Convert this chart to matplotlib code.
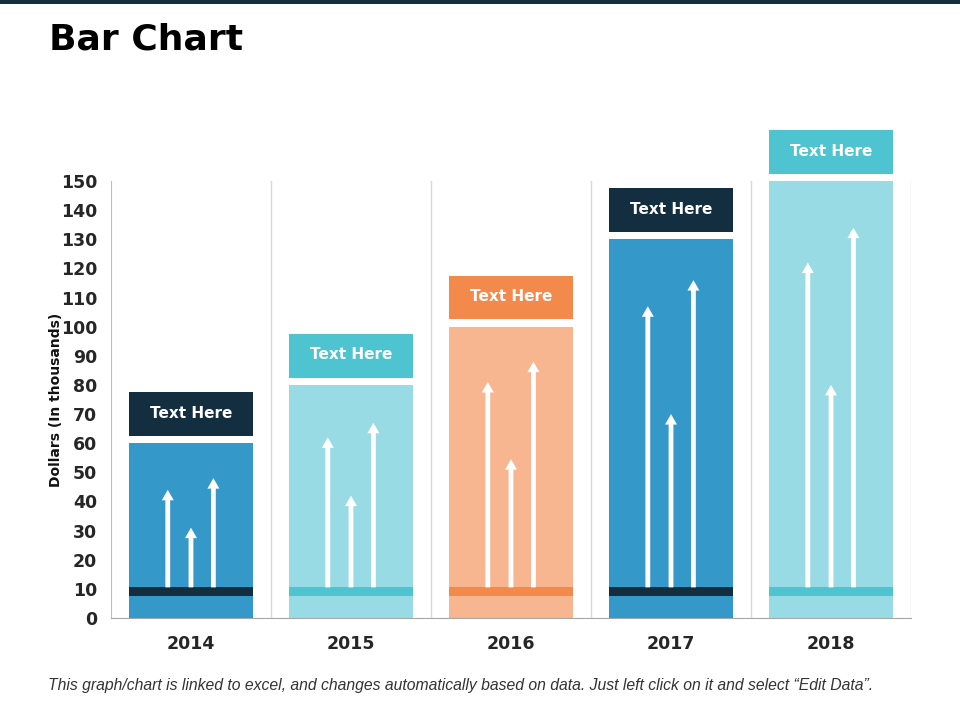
import matplotlib.pyplot as plt
from matplotlib.patches import Rectangle

years = ['2014', '2015', '2016', '2017', '2018']
values = [60, 80, 100, 130, 150]
arrow_tips = [
    [44, 31, 48],
    [62, 42, 67],
    [81, 54.5, 88],
    [107, 70, 116],
    [122, 80, 134],
]
bar_colors = ['#3498c8', '#98dbe4', '#f8b690', '#3498c8', '#98dbe4']
dark_colors = ['#132f3f', '#4fc4d1', '#f4894c', '#132f3f', '#4fc4d1']
label_text = 'Text Here'

fig = plt.figure(figsize=(9.6, 7.2), dpi=100)
ax = fig.add_axes([0.1156, 0.1417, 0.8334, 0.6069])

x = list(range(len(years)))
width = 0.77
ax.bar(x, values, width=width, color=bar_colors, zorder=2)

base = 10.5
for i in x:
    # band near the bottom of each bar
    ax.add_patch(Rectangle((i - width / 2, 7.5), width, 3,
                           color=dark_colors[i], lw=0, zorder=3))
    # label box above the bar
    ax.add_patch(Rectangle((i - width / 2, values[i] + 2.5), width, 15,
                           color=dark_colors[i], lw=0, zorder=3, clip_on=False))
    ax.text(i, values[i] + 10.3, label_text, color='white', fontsize=11,
            fontweight='bold', ha='center', va='center', zorder=4)
    # white arrows (vertical, so width is in x units and length in y units)
    for off, tip in zip([-0.145, 0.0, 0.14], arrow_tips[i]):
        ax.arrow(i + off, base, 0, tip - base, width=0.03, head_width=0.075,
                 head_length=3.6, length_includes_head=True,
                 color='white', lw=0, zorder=4)

ax.set_xlim(-0.5, len(years) - 0.5)
ax.set_ylim(0, 150)
ax.set_yticks(range(0, 151, 10))
ax.set_xticks(x)
ax.set_xticklabels(years)
for b in [i + 0.5 for i in x]:
    ax.axvline(b, color='#d9d9d9', lw=1, zorder=1)

for s in ['top', 'right']:
    ax.spines[s].set_visible(False)
ax.spines['left'].set_color('#bfbfbf')
ax.spines['bottom'].set_color('#a6a6a6')
ax.tick_params(length=0, labelsize=12.5, colors='#262626', pad=10)
for lab in ax.get_xticklabels() + ax.get_yticklabels():
    lab.set_fontweight('bold')
ax.tick_params(axis='x', pad=12)
ax.set_ylabel('Dollars (In thousands)', fontsize=10, fontweight='bold',
              color='#111111', labelpad=-2)

# title and dark strip at the top
fig.add_artist(Rectangle((0, 0.994), 1, 0.006, transform=fig.transFigure,
                         color='#132f3f', lw=0))
fig.text(0.051, 0.945, 'Bar Chart', fontsize=26, fontweight='bold',
         ha='left', va='center', color='black')

fig.text(0.05, 0.048,
         'This graph/chart is linked to excel, and changes automatically based on data. '
         'Just left click on it and select \u201cEdit Data\u201d.',
         fontsize=11.3, style='italic', color='#333333', ha='left', va='center',
         family=['Liberation Sans Narrow', 'Liberation Sans'])

fig.savefig('out.png', dpi=100)
